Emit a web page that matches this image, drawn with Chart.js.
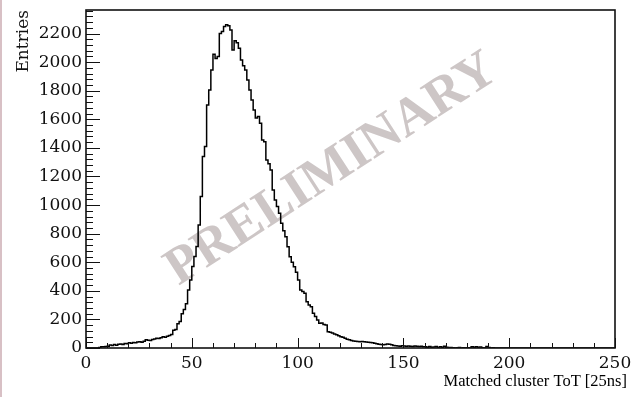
<!DOCTYPE html>
<html>
<head>
<meta charset="utf-8">
<script src="https://cdn.jsdelivr.net/npm/chart.js@4.4.1/dist/chart.umd.min.js"></script>
<style>
  html, body { margin: 0; padding: 0; background: #fff; }
  body { width: 634px; height: 397px; overflow: hidden; position: relative; }
  canvas { position: absolute; left: 0; top: 0; }
  #edge { position: absolute; left: 0; top: 0; width: 2px; height: 397px; background: #d8c0c5; }
</style>
</head>
<body>
<canvas id="hist" width="634" height="397"></canvas>
<div id="edge"></div>
<script>
// bin contents, 1 bin = 1 unit of ToT, starting at 0
const counts = [
  0, 0, 0, 0, 0, 0, 3, 8, 9, 10,
  12, 21, 18, 24, 20, 26, 28, 24, 31, 29,
  37, 34, 38, 36, 42, 44, 41, 47, 58, 55,
  52, 60, 63, 68, 66, 72, 79, 76, 82, 88,
  95, 125, 130, 170, 185, 240, 270, 310, 405, 475,
  570, 640, 710, 860, 1060, 1340, 1410, 1700, 1805, 1945,
  2055, 2025, 2040, 2200, 2215, 2250, 2262, 2255, 2225, 2085,
  2150, 2135, 2097, 2015, 1975, 1945, 1875, 1805, 1735, 1665,
  1610, 1620, 1572, 1456, 1444, 1316, 1290, 1246, 1106, 1036,
  990, 943, 873, 820, 779, 709, 639, 600, 569, 530,
  476, 406, 395, 383, 324, 300, 289, 243, 220, 196,
  173, 175, 165, 161, 114, 110, 105, 98, 92, 85,
  79, 75, 68, 61, 58, 52, 49, 47, 46, 44,
  45, 44, 42, 40, 38, 37, 33, 30, 27, 24,
  22, 25, 28, 26, 22, 18, 15, 14, 13, 15,
  14, 12, 14, 13, 11, 14, 12, 10, 13, 9,
  8, 6, 11, 5, 7, 10, 4, 9, 6, 12,
  5, 3, 4, 2, 0, 1, 3, 0, 2, 0,
  1, 0, 8, 6, 9, 5, 7, 2, 0, 10,
  3, 0, 1, 0, 0, 0, 0, 0, 0, 0,
  0, 0, 0, 0, 0, 0, 0, 0, 0, 0,
  0, 0, 0, 0, 0, 0, 0, 0, 0, 0,
  0, 0, 0, 0, 0, 0, 0, 0, 0, 0,
  0, 0, 0, 0, 0, 0, 0, 0, 0, 0,
  0, 0, 0, 0, 0, 0, 0, 0, 0, 0,
];
const binLow = 0;
const binWidth = 1;

const xRange = [0, 250];
const yRange = [0, 2365];
const xTickValues = [0, 50, 100, 150, 200, 250];
const yTickValues = [0, 200, 400, 600, 800, 1000, 1200, 1400, 1600, 1800, 2000, 2200];
const xMinorStep = 10;
const yMinorStep = 40;

const xTitle = "Matched cluster ToT [25ns]";
const yTitle = "Entries";
const watermark = "PRELIMINARY";

// low edge of every bin, plus the closing edge
const histPoints = counts.map((v, i) => ({ x: binLow + i * binWidth, y: v }));
histPoints.push({ x: binLow + counts.length * binWidth, y: counts[counts.length - 1] });

const tickFont = { family: "DejaVu Serif", size: 17 };

// ROOT look: ticks inside the frame, frame box, titles, watermark
const rootStyle = {
  id: "rootStyle",
  beforeDatasetsDraw(chart) {
    const ctx = chart.ctx;
    ctx.save();
    ctx.translate(332, 170);
    ctx.rotate((-33 * Math.PI) / 180);
    ctx.font = 'bold 53px "Liberation Serif"';
    ctx.fillStyle = "#cdc6c6";
    ctx.textAlign = "center";
    ctx.textBaseline = "middle";
    ctx.fillText(watermark, 0, 0);
    ctx.restore();
  },
  afterDatasetsDraw(chart) {
    const { ctx, chartArea: a, scales } = chart;
    const x = scales.x, y = scales.y;
    ctx.save();
    ctx.strokeStyle = "#111";
    ctx.lineWidth = 1;
    ctx.beginPath();
    for (let v = yRange[0]; v <= yRange[1]; v += yMinorStep) {
      const py = Math.round(y.getPixelForValue(v)) + 0.5;
      const len = yTickValues.includes(v) ? 14 : 7;
      ctx.moveTo(a.left, py);
      ctx.lineTo(a.left + len, py);
    }
    for (let v = xRange[0]; v <= xRange[1]; v += xMinorStep) {
      const px = Math.round(x.getPixelForValue(v)) + 0.5;
      const len = xTickValues.includes(v) ? 10 : 5;
      ctx.moveTo(px, a.bottom);
      ctx.lineTo(px, a.bottom - len);
    }
    ctx.stroke();

    ctx.lineWidth = 1.6;
    ctx.strokeRect(a.left, a.top, a.right - a.left, a.bottom - a.top);

    ctx.fillStyle = "#000";
    ctx.font = '16.5px "Liberation Serif"';
    ctx.textAlign = "right";
    ctx.textBaseline = "alphabetic";
    ctx.fillText(xTitle, 627, 386);

    ctx.translate(28, 10);
    ctx.rotate(-Math.PI / 2);
    ctx.font = '17px "DejaVu Serif"';
    ctx.fillStyle = "#111";
    ctx.fillText(yTitle, 0, 0);
    ctx.restore();
  },
};

new Chart(document.getElementById("hist"), {
  type: "line",
  data: {
    datasets: [
      {
        data: histPoints,
        stepped: true,
        borderColor: "#000",
        borderWidth: 1.5,
        pointRadius: 0,
        fill: false,
      },
    ],
  },
  options: {
    responsive: false,
    animation: false,
    devicePixelRatio: 1,
    layout: { padding: { left: 0, right: 19, top: 10, bottom: 0 } },
    plugins: { legend: { display: false }, tooltip: { enabled: false } },
    scales: {
      x: {
        type: "linear",
        min: xRange[0],
        max: xRange[1],
        grid: { display: false, drawTicks: false },
        border: { display: false },
        afterBuildTicks: (s) => { s.ticks = xTickValues.map((v) => ({ value: v })); },
        afterFit: (s) => { s.height = 49; s.paddingLeft = 0; s.paddingRight = 0; },
        ticks: { font: tickFont, color: "#111", padding: 5, maxRotation: 0, autoSkip: false, callback: (v) => String(v) },
      },
      y: {
        type: "linear",
        min: yRange[0],
        max: yRange[1],
        grid: { display: false, drawTicks: false },
        border: { display: false },
        afterBuildTicks: (s) => { s.ticks = yTickValues.map((v) => ({ value: v })); },
        afterFit: (s) => { s.width = 86; s.paddingTop = 0; s.paddingBottom = 0; },
        ticks: { font: tickFont, color: "#111", padding: 4, autoSkip: false, callback: (v) => String(v) },
      },
    },
  },
  plugins: [rootStyle],
});
</script>
</body>
</html>
